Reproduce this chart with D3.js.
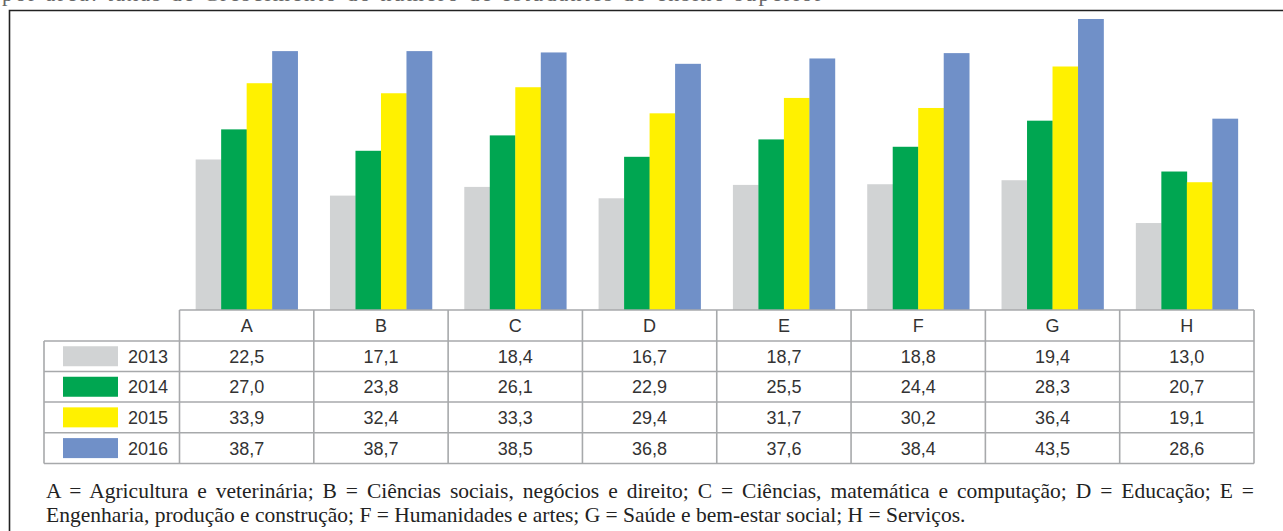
<!DOCTYPE html>
<html><head><meta charset="utf-8">
<script src="https://cdn.jsdelivr.net/npm/d3@7"></script>
<style>body{margin:0;background:#fff}svg{display:block}</style>
</head><body>
<script>
const categories = ["A","B","C","D","E","F","G","H"];
const years = ["2013","2014","2015","2016"];
const v2013 = [22.5,17.1,18.4,16.7,18.7,18.8,19.4,13.0];
const v2014 = [27.0,23.8,26.1,22.9,25.5,24.4,28.3,20.7];
const v2015 = [33.9,32.4,33.3,29.4,31.7,30.2,36.4,19.1];
const v2016 = [38.7,38.7,38.5,36.8,37.6,38.4,43.5,28.6];
const colors = ["#d1d3d4","#00a651","#fff100","#7090c8"];
const footLine1 = "A = Agricultura e veterinária; B = Ciências sociais, negócios e direito; C = Ciências, matemática e computação; D = Educação; E =";
const footLine2 = "Engenharia, produção e construção; F = Humanidades e artes; G = Saúde e bem-estar social; H = Serviços.";
const topText = "por área: taxas de Crescimento do número de estudantes do ensino superior";

const series = [v2013,v2014,v2015,v2016];
const W=1283,H=531;
const svg=d3.select("body").append("svg").attr("width",W).attr("height",H);

// partially visible caption above frame (cut off by the page edge, as in the reference)
svg.append("text").attr("x",2).attr("y",0.5).attr("font-family","Liberation Serif")
  .attr("font-size",22).attr("fill","#666").attr("textLength",820).text(topText);

// frame
svg.append("path").attr("d",`M9.5,531 V10.5 H1283`).attr("fill","none").attr("stroke","#222").attr("stroke-width",1.6);

const x0=179.5, x1=1254;
const x=d3.scaleBand().domain(categories).range([x0,x1]).paddingInner(0).paddingOuter(0);
const xs=d3.scaleBand().domain(years).range([0,102]);
const base=310;
const y=d3.scaleLinear().domain([0,43.5]).range([base,19]);

const g=svg.append("g");
categories.forEach((c,i)=>{
  const off=x(c)+(x.bandwidth()-102)/2;
  years.forEach((yr,j)=>{
    const v=series[j][i];
    g.append("rect").attr("x",off+xs(yr)).attr("width",xs.bandwidth()+0.3)
      .attr("y",y(v)).attr("height",y(0)-y(v)).attr("fill",colors[j]);
  });
});

// table
const rowTop=[310,341,371.5,402,432.7,463.5];
const lineC="#a7a9ab", lw=1.6;
const t=svg.append("g").attr("stroke",lineC).attr("stroke-width",lw);
t.append("line").attr("x1",x0).attr("x2",x1).attr("y1",rowTop[0]).attr("y2",rowTop[0]);
for(let r=1;r<rowTop.length;r++) t.append("line").attr("x1",44).attr("x2",x1).attr("y1",rowTop[r]).attr("y2",rowTop[r]);
t.append("line").attr("x1",44).attr("x2",44).attr("y1",rowTop[1]).attr("y2",rowTop[5]);
categories.forEach(c=>{
  t.append("line").attr("x1",x(c)).attr("x2",x(c)).attr("y1",rowTop[0]).attr("y2",rowTop[5]);
});
t.append("line").attr("x1",x1).attr("x2",x1).attr("y1",rowTop[0]).attr("y2",rowTop[5]);

const fnt="Liberation Sans", fs=18, tc="#333";
categories.forEach(c=>{
  svg.append("text").attr("x",x(c)+x.bandwidth()/2).attr("y",(rowTop[0]+rowTop[1])/2+6.5)
    .attr("text-anchor","middle").attr("font-family",fnt).attr("font-size",fs).attr("fill",tc).text(c);
});
const fmt=v=>v.toFixed(1).replace(".",",");
years.forEach((yr,j)=>{
  const cy=(rowTop[j+1]+rowTop[j+2])/2;
  svg.append("rect").attr("x",63).attr("y",cy-10).attr("width",55).attr("height",20).attr("fill",colors[j]);
  svg.append("text").attr("x",168).attr("y",cy+6.5).attr("text-anchor","end")
    .attr("font-family",fnt).attr("font-size",fs).attr("fill",tc).text(yr);
  categories.forEach((c,i)=>{
    svg.append("text").attr("x",x(c)+x.bandwidth()/2).attr("y",cy+6.5).attr("text-anchor","middle")
      .attr("font-family",fnt).attr("font-size",fs).attr("fill",tc).text(fmt(series[j][i]));
  });
});

// footnote: line 2 sized to its reference width, line 1 justified with word spacing
const serif="Liberation Serif";
const f2=svg.append("text").attr("x",46).attr("y",522).attr("font-family",serif).attr("font-size",19)
  .attr("fill","#222").text(footLine2);
const n2=f2.node().getComputedTextLength();
const fsz=19*920/n2;
f2.attr("font-size",fsz);
const f1=svg.append("text").attr("x",46).attr("y",498).attr("font-family",serif).attr("font-size",fsz)
  .attr("fill","#222").text(footLine1);
const n1=f1.node().getComputedTextLength();
const spaces=(footLine1.match(/ /g)||[]).length;
f1.style("word-spacing",((1208-n1)/spaces)+"px");
</script>
</body></html>
